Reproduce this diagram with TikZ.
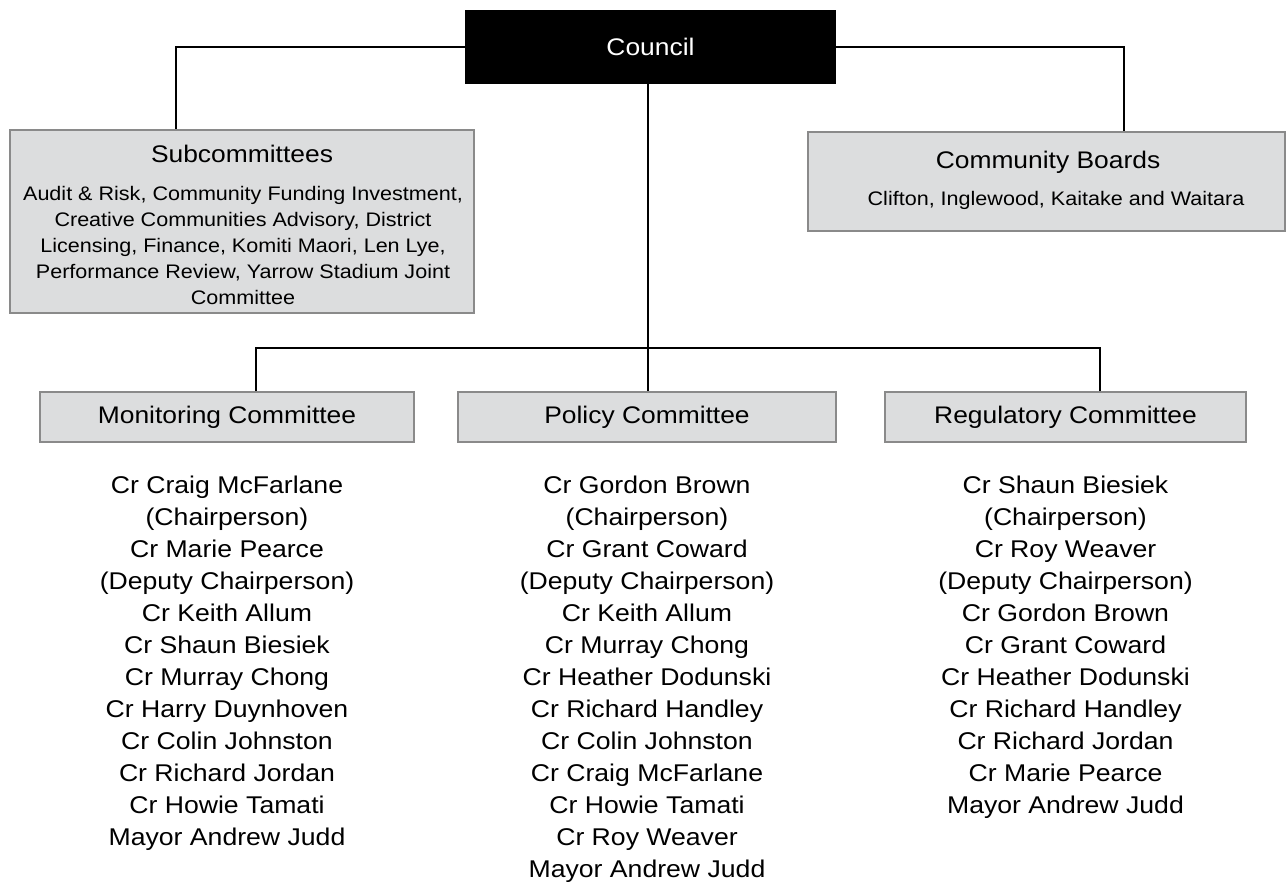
\documentclass[tikz,border=0pt]{standalone}
\usepackage{fontspec}
\setmainfont{Liberation Sans}[FakeStretch=1.1]
\usetikzlibrary{positioning}
\definecolor{boxgray}{HTML}{DCDDDE}
\definecolor{edgegray}{HTML}{8A8A8A}

\begin{document}
\begin{tikzpicture}[x=1pt,y=-1pt,
	greybox/.style={draw=edgegray, line width=2pt, fill=boxgray, inner sep=0pt},
	link/.style={draw=black, line width=2pt},
	headtext/.style={font=\fontsize{24}{28}\selectfont},
	smalltext/.style={align=center, inner sep=0pt, font=\fontsize{19.6}{26}\selectfont},
	members/.style={align=center, inner sep=0pt, font=\fontsize{24.2}{32}\selectfont}]
	\useasboundingbox (0,0) rectangle (1287,881);
	% draw rectangle node
	\node[fill=black,
	minimum width=371pt,
	minimum height=74pt,
	text=white,
	headtext] (council) at (650.5,47) {Council};
	\node[greybox,
	minimum width=464pt,
	minimum height=183pt] (subs) at (242,221.5) {};
	\node[headtext, anchor=base] (substitle) at (242,162) {Subcommittees};
	\node[smalltext, anchor=north] (subslist) at (243,186.5) {
	Audit \& Risk, Community Funding Investment,\\
	Creative Communities Advisory, District\\
	Licensing, Finance, Komiti Maori, Len Lye,\\
	Performance Review, Yarrow Stadium Joint\\
	Committee
	};
	\node[greybox,
	minimum width=477pt,
	minimum height=99pt] (boards) at (1046.5,181.5) {};
	\node[headtext, anchor=base] (boardstitle) at (1048,168) {Community Boards};
	\node[smalltext, anchor=base] (boardslist) at (1056,205) {Clifton, Inglewood, Kaitake and Waitara};
	\node[greybox,
	minimum width=374pt,
	minimum height=50pt,
	headtext] (mon) at (227,417) {Monitoring Committee};
	\node[greybox,
	minimum width=378pt,
	minimum height=50pt,
	headtext] (pol) at (647,417) {Policy Committee};
	\node[greybox,
	minimum width=361pt,
	minimum height=50pt,
	headtext] (reg) at (1065.5,417) {Regulatory Committee};
	
	% Members
	\node[members, below=32.5pt of mon] (monlist) {
	Cr Craig McFarlane\\(Chairperson)\\Cr Marie Pearce\\(Deputy Chairperson)\\
	Cr Keith Allum\\Cr Shaun Biesiek\\Cr Murray Chong\\Cr Harry Duynhoven\\
	Cr Colin Johnston\\Cr Richard Jordan\\Cr Howie Tamati\\Mayor Andrew Judd
	};
	\node[members, below=32.5pt of pol] (pollist) {
	Cr Gordon Brown\\(Chairperson)\\Cr Grant Coward\\(Deputy Chairperson)\\
	Cr Keith Allum\\Cr Murray Chong\\Cr Heather Dodunski\\Cr Richard Handley\\
	Cr Colin Johnston\\Cr Craig McFarlane\\Cr Howie Tamati\\Cr Roy Weaver\\
	Mayor Andrew Judd
	};
	\node[members, below=32.5pt of reg] (reglist) {
	Cr Shaun Biesiek\\(Chairperson)\\Cr Roy Weaver\\(Deputy Chairperson)\\
	Cr Gordon Brown\\Cr Grant Coward\\Cr Heather Dodunski\\Cr Richard Handley\\
	Cr Richard Jordan\\Cr Marie Pearce\\Mayor Andrew Judd
	};
	
	% Lines
	\coordinate (split) at (648,348);
	\draw[link] (council.west) -| ([xshift=-66pt]subs.north);
	\draw[link] (council.east) -| ([xshift=77.5pt]boards.north);
	\draw[link] (council.south -| split) -- (split);
	\draw[link] ([xshift=29pt]mon.north) |- (split) -| ([xshift=34.5pt]reg.north);
	\draw[link] (split) -- (pol.north -| split);
\end{tikzpicture}
\end{document}
